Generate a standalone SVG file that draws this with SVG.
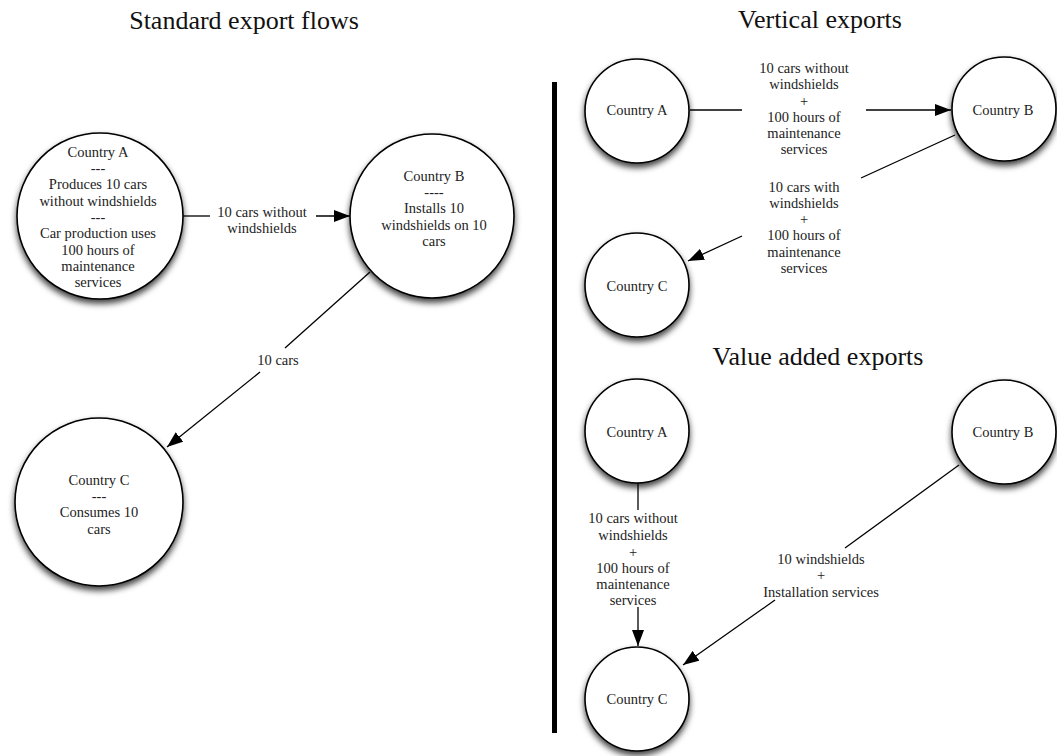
<svg xmlns="http://www.w3.org/2000/svg" width="1057" height="756" viewBox="0 0 1057 756">
<defs>
<filter id="sh" x="-30%" y="-30%" width="160%" height="170%">
<feDropShadow dx="0" dy="4" stdDeviation="3" flood-color="#000" flood-opacity="0.75"/>
</filter>
<marker id="ah" viewBox="0 0 16 12" refX="16" refY="6" markerWidth="16" markerHeight="12" markerUnits="userSpaceOnUse" orient="auto">
<path d="M0,0 L16,6 L0,12 Z" fill="#000"/>
</marker>
</defs>
<style>
.node{fill:#fff;stroke:#000;stroke-width:1.6;filter:url(#sh)}
.t{font-family:"Liberation Serif","Times New Roman",serif;font-size:14.5px;fill:#222;text-anchor:middle}
.title{font-family:"Liberation Serif","Times New Roman",serif;font-size:26px;fill:#111;text-anchor:middle}
.c{stroke:#000;stroke-width:1.3;fill:none}
.ca{stroke:#000;stroke-width:1.3;fill:none;marker-end:url(#ah)}
</style>
<rect width="1057" height="756" fill="#fff"/>

<text class="title" x="244" y="29">Standard export flows</text>
<text class="title" x="820" y="28">Vertical exports</text>
<text class="title" x="818" y="365">Value added exports</text>

<rect id="divider" x="552" y="82" width="5" height="651" fill="#000"/>

<g id="connectors">
<!-- left: A -> B -->
<line class="c" x1="183" y1="216" x2="210" y2="216"/>
<line class="ca" x1="316" y1="216" x2="350" y2="216"/>
<text class="t" x="262" y="217">10 cars without</text>
<text class="t" x="262" y="233">windshields</text>
<!-- left: B -> C -->
<line class="c" x1="370" y1="272" x2="285" y2="348"/>
<line class="ca" x1="260" y1="372" x2="167" y2="447"/>
<text class="t" x="278" y="365">10 cars</text>
<!-- vertical: A -> B -->
<line class="c" x1="690" y1="110" x2="742" y2="110"/>
<line class="ca" x1="866" y1="110" x2="951" y2="110"/>
<text class="t" x="804" y="73">10 cars without</text>
<text class="t" x="804" y="89">windshields</text>
<text class="t" x="804" y="105.5">+</text>
<text class="t" x="804" y="121.5">100 hours of</text>
<text class="t" x="804" y="138">maintenance</text>
<text class="t" x="804" y="154">services</text>
<!-- vertical: B -> C -->
<line class="c" x1="955" y1="135" x2="861" y2="178"/>
<line class="ca" x1="742" y1="236" x2="688" y2="261"/>
<text class="t" x="804" y="191.5">10 cars with</text>
<text class="t" x="804" y="208">windshields</text>
<text class="t" x="804" y="224">+</text>
<text class="t" x="804" y="240">100 hours of</text>
<text class="t" x="804" y="256.5">maintenance</text>
<text class="t" x="804" y="273">services</text>
<!-- value added: A -> C -->
<line class="c" x1="638" y1="483" x2="638" y2="510"/>
<line class="ca" x1="638" y1="607" x2="638" y2="646"/>
<text class="t" x="633" y="523">10 cars without</text>
<text class="t" x="633" y="540">windshields</text>
<text class="t" x="633" y="556.5">+</text>
<text class="t" x="633" y="573">100 hours of</text>
<text class="t" x="633" y="589">maintenance</text>
<text class="t" x="633" y="605">services</text>
<!-- value added: B -> C -->
<line class="c" x1="959" y1="465" x2="845" y2="548"/>
<line class="ca" x1="775" y1="600" x2="683" y2="665"/>
<text class="t" x="821" y="564">10 windshields</text>
<text class="t" x="821" y="580">+</text>
<text class="t" x="821" y="597">Installation services</text>
</g>

<g id="std-A">
<circle class="node" cx="100" cy="216" r="83"/>
<text class="t" x="98" y="157">Country A</text>
<text class="t" x="98" y="173">---</text>
<text class="t" x="98" y="189">Produces 10 cars</text>
<text class="t" x="98" y="205.5">without windshields</text>
<text class="t" x="98" y="222">---</text>
<text class="t" x="98" y="238">Car production uses</text>
<text class="t" x="98" y="254.5">100 hours of</text>
<text class="t" x="98" y="271">maintenance</text>
<text class="t" x="98" y="287">services</text>
</g>
<g id="std-B">
<circle class="node" cx="432" cy="216" r="82"/>
<text class="t" x="434" y="181">Country B</text>
<text class="t" x="434" y="197">----</text>
<text class="t" x="434" y="213">Installs 10</text>
<text class="t" x="434" y="230">windshields on 10</text>
<text class="t" x="434" y="246">cars</text>
</g>
<g id="std-C">
<circle class="node" cx="99" cy="502" r="84"/>
<text class="t" x="99" y="485">Country C</text>
<text class="t" x="99" y="501">---</text>
<text class="t" x="99" y="517">Consumes 10</text>
<text class="t" x="99" y="534">cars</text>
</g>

<g id="vert-A">
<circle class="node" cx="637" cy="111" r="52"/>
<text class="t" x="637" y="115">Country A</text>
</g>
<g id="vert-B">
<circle class="node" cx="1004" cy="109" r="52"/>
<text class="t" x="1003" y="115">Country B</text>
</g>
<g id="vert-C">
<circle class="node" cx="637" cy="285" r="52"/>
<text class="t" x="637" y="291">Country C</text>
</g>

<g id="va-A">
<circle class="node" cx="637" cy="431" r="52"/>
<text class="t" x="637" y="437">Country A</text>
</g>
<g id="va-B">
<circle class="node" cx="1004" cy="432" r="52"/>
<text class="t" x="1003" y="437">Country B</text>
</g>
<g id="va-C">
<circle class="node" cx="637" cy="699" r="52"/>
<text class="t" x="637" y="704">Country C</text>
</g>
</svg>
